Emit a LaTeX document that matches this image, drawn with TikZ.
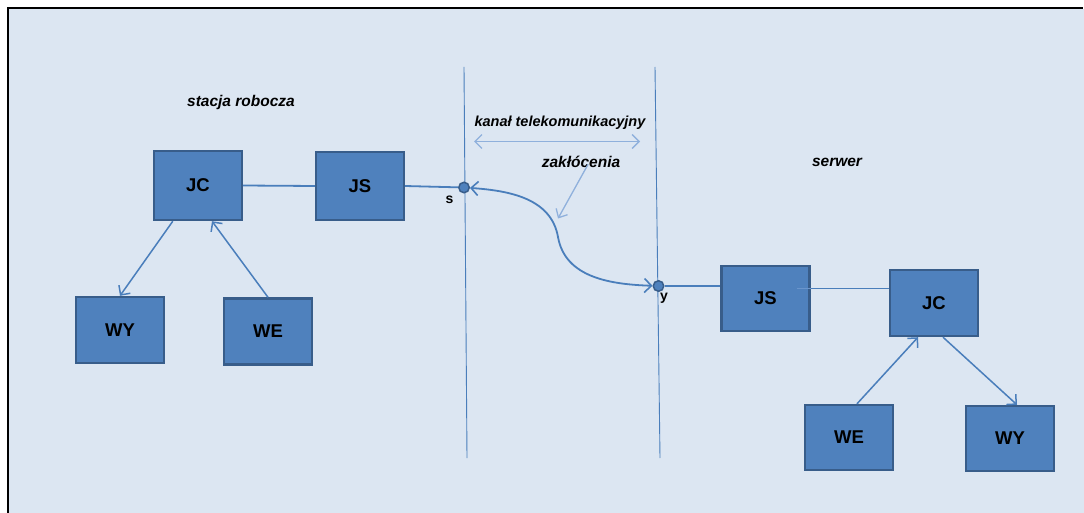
\documentclass[tikz,border=0pt]{standalone}
\usepackage{fontspec}
\setmainfont{Liberation Sans}
\usetikzlibrary{arrows.meta}
\definecolor{bgblue}{HTML}{DCE6F2}
\definecolor{boxfill}{HTML}{4F81BD}
\definecolor{boxedge}{HTML}{385D8A}
\definecolor{linkblue}{HTML}{4A7EBB}
\definecolor{innerline}{HTML}{6A95CC}
\definecolor{paleblue}{HTML}{8FB0DC}
\begin{document}
\begin{tikzpicture}[x=1pt,y=-1pt,
  unit/.style={draw=boxedge, fill=boxfill, line width=2.4pt,
    minimum width=88pt, minimum height=66pt, inner sep=0pt,
    font=\fontsize{18.5}{20}\selectfont\bfseries},
  port/.style={circle, draw=boxedge, fill=boxfill, line width=1.5pt,
    minimum size=10.5pt, inner sep=0pt},
  caption/.style={font=\fontsize{15.5}{18}\selectfont\bfseries\itshape, inner sep=0pt},
  portlabel/.style={font=\fontsize{14}{16}\selectfont\bfseries, inner sep=0pt},
  link/.style={draw=linkblue, line width=1.8pt},
  tip/.style={Straight Barb[length=7pt,width=14pt,line width=1.5pt]},
  flow/.style={draw=linkblue, line width=1.5pt, -{Straight Barb[length=7pt,width=14pt,line width=1.5pt]}},
  border/.style={draw=linkblue, line width=0.9pt},
  hint/.style={draw=paleblue, line width=1.3pt},
]
% page and frame
\useasboundingbox (0,0) rectangle (1084,513);
\fill[bgblue] (9,9) rectangle (1084,513);
\draw[black, line width=2.2pt] (8,513) -- (8,8) -- (1083,8);

% channel boundaries
\coordinate (bl1) at (464,67);
\coordinate (bl2) at (467,458);
\coordinate (br1) at (655,67);
\coordinate (br2) at (660,458);
\draw[border] (bl1) -- (bl2);
\draw[border] (br1) -- (br2);

% workstation side
\node[unit, minimum height=69pt] (JCl) at (198,185.5) {JC};
\node[unit, minimum height=68pt] (JSl) at (360,186) {JS};
\node[unit] (WYl) at (120,330) {WY};
\node[unit] (WEl) at (268,331.5) {WE};
\node[caption] (ws) at (241,102) {stacja robocza};

% server side
\node[unit, minimum height=65pt] (JSr) at (765.5,298.5) {JS};
\node[unit] (JCr) at (934,303) {JC};
\node[unit, minimum height=65pt] (WEr) at (849,437.5) {WE};
\node[unit, minimum height=65pt] (WYr) at (1010,438.5) {WY};
\node[caption] (srv) at (837,162) {serwer};

% channel
\node[port] (s) at (464,187.5) {};
\node[port] (y) at (658.5,286) {};
\node[portlabel] (sl) at (449.5,200) {s};
\node[portlabel] (yl) at (664,298) {y};
\node[caption, font=\fontsize{14.5}{17}\selectfont\bfseries\itshape] (chan) at (560,122.5) {kanał telekomunikacyjny};
\node[caption] (noise) at (581,161.5) {zakłócenia};
\coordinate (ca) at (474,141.5);
\coordinate (cb) at (640,141.5);
\coordinate (mid) at (558,237);
\coordinate (hit) at (558,218.5);

% connections, workstation
\draw[link] (JCl.east) -- (JSl.west);
\draw[link] (JSl.east) -- (s);
\draw[flow] (JCl.south west) ++(20pt,0) -- (WYl.north);
\draw[flow] (WEl.north) -- ([xshift=14pt]JCl.south);

% connections, server
\draw[link] (y) -- (y -| JSr.west);
\draw[innerline, line width=1.6pt] ([shift={(-14pt,10pt)}]JSr.east) -- ([yshift=10pt]JSr.east);
\draw[link] ([yshift=10pt]JSr.east) -- ([yshift=10pt]JSr.east -| JCr.west);
\draw[flow] (WEr.north) ++(8pt,0) -- ([xshift=-16pt]JCr.south);
\draw[flow] ([xshift=9pt]JCr.south) -- ([xshift=7pt]WYr.north);

% transmission through the channel
\draw[link, {Straight Barb[length=7pt,width=14pt,line width=1.6pt]}-{Straight Barb[length=7pt,width=14pt,line width=1.6pt]}]
  (s) to[out=-4, in=100] (mid) to[out=-80, in=178] (y);
\draw[hint, {Straight Barb[length=7pt,width=14pt]}-{Straight Barb[length=7pt,width=14pt]}] (ca) -- (cb);
\draw[hint, -{Straight Barb[length=7pt,width=13pt]}] (noise.south) ++(7pt,3pt) -- (hit);
\end{tikzpicture}
\end{document}
